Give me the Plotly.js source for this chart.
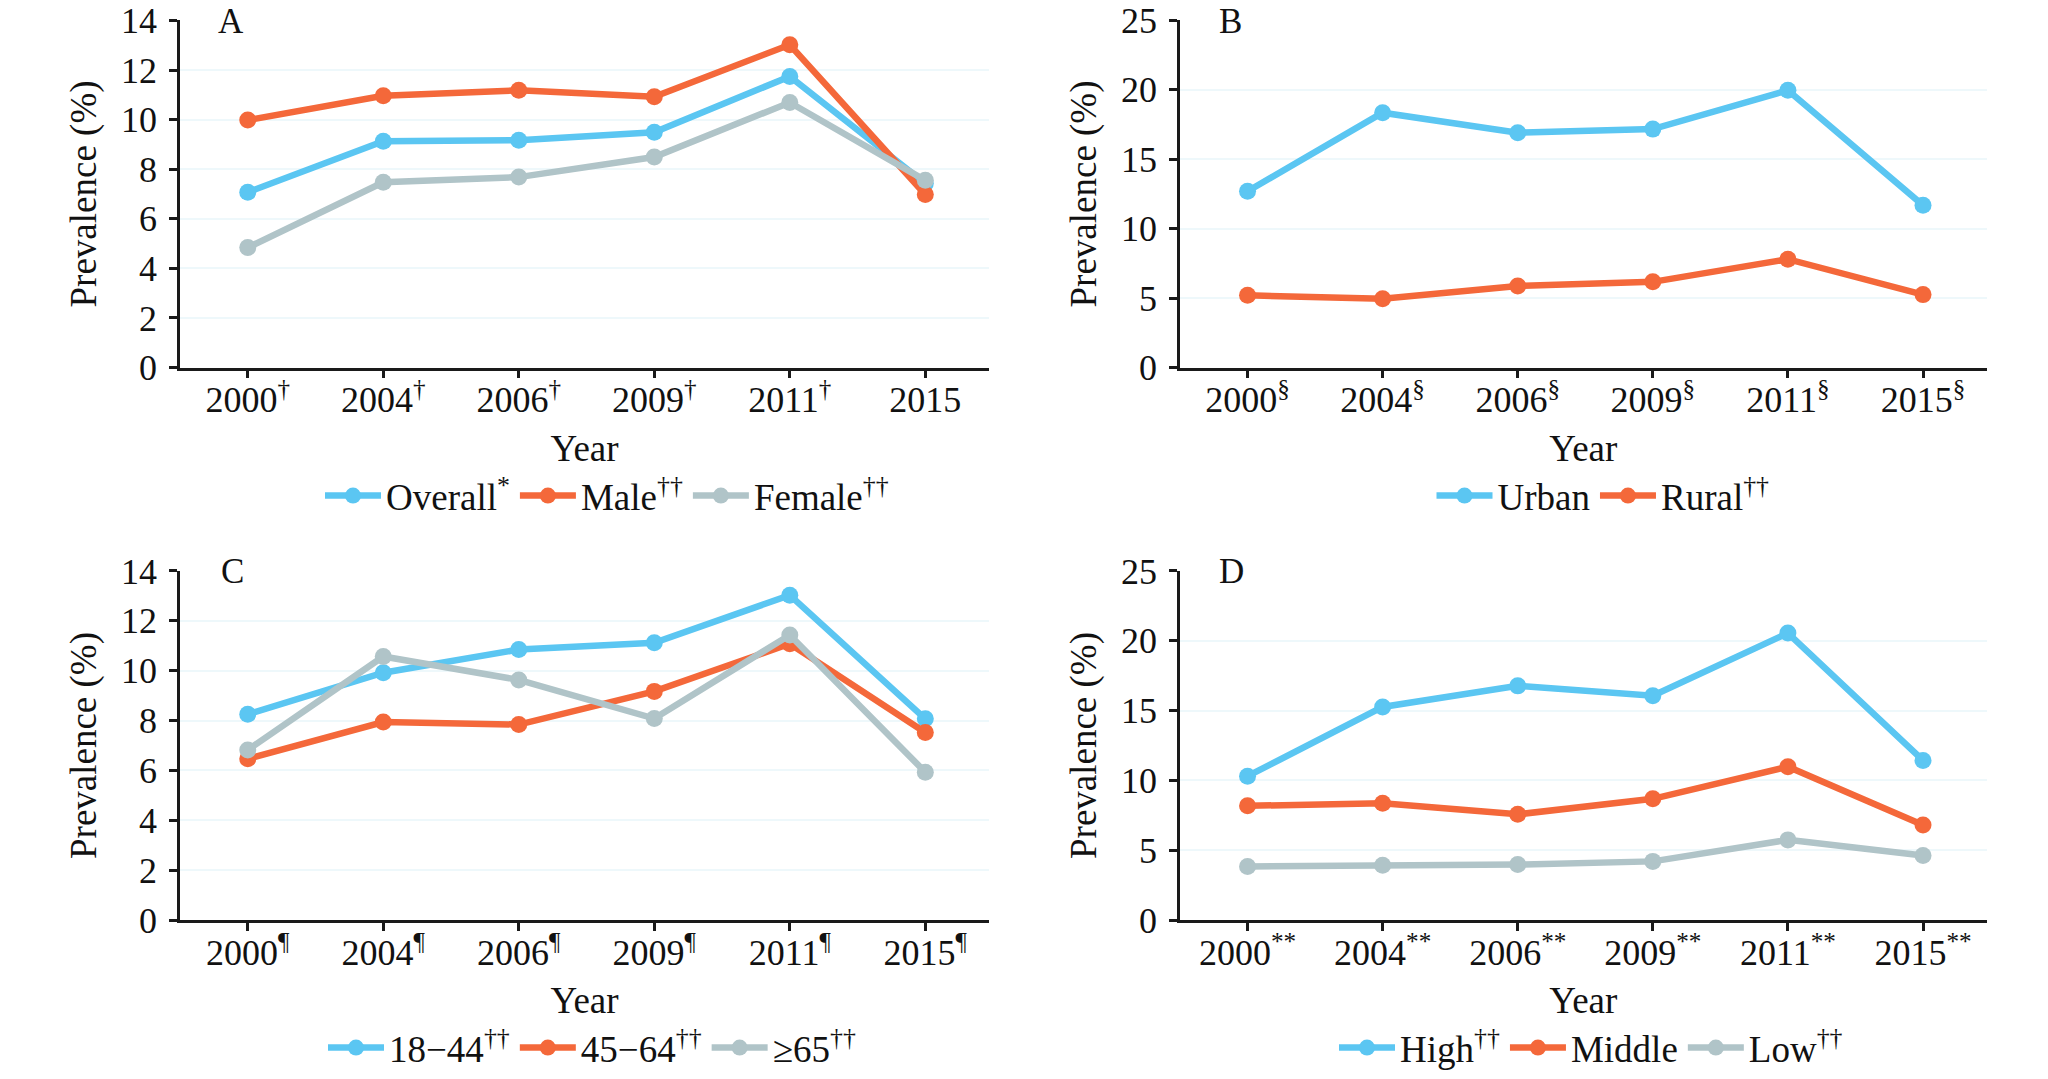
<!DOCTYPE html>
<html><head><meta charset="utf-8">
<script src="https://cdn.plot.ly/plotly-3.0.1.min.js"></script>
<style>html,body{margin:0;padding:0;background:#fff}</style>
</head><body><div id="chart" style="width:2048px;height:1079px"></div>
<script>
// ---- data ----
const years = ['2000','2004','2006','2009','2011','2015'];
const ticksA = ['2000<sup>†</sup>','2004<sup>†</sup>','2006<sup>†</sup>','2009<sup>†</sup>','2011<sup>†</sup>','2015'];
const ticksB = ['2000<sup>§</sup>','2004<sup>§</sup>','2006<sup>§</sup>','2009<sup>§</sup>','2011<sup>§</sup>','2015<sup>§</sup>'];
const ticksC = ['2000<sup>¶</sup>','2004<sup>¶</sup>','2006<sup>¶</sup>','2009<sup>¶</sup>','2011<sup>¶</sup>','2015<sup>¶</sup>'];
const ticksD = ['2000<sup>**</sup>','2004<sup>**</sup>','2006<sup>**</sup>','2009<sup>**</sup>','2011<sup>**</sup>','2015<sup>**</sup>'];

const overall = [7.07, 9.13, 9.17, 9.49, 11.74, 7.42];
const male    = [9.98, 10.96, 11.18, 10.92, 13.02, 6.98];
const female  = [4.84, 7.47, 7.68, 8.49, 10.69, 7.55];

const urban = [12.70, 18.35, 16.91, 17.17, 19.97, 11.69];
const rural = [5.20, 4.95, 5.87, 6.17, 7.80, 5.25];

const age18to44 = [8.25, 9.92, 10.85, 11.12, 13.03, 8.07];
const age45to64 = [6.47, 7.94, 7.84, 9.17, 11.08, 7.52];
const age65plus = [6.82, 10.57, 9.63, 8.08, 11.43, 5.93];

const incomeHigh   = [10.30, 15.26, 16.77, 16.07, 20.55, 11.43];
const incomeMiddle = [8.18, 8.36, 7.57, 8.68, 10.98, 6.80];
const incomeLow    = [3.84, 3.92, 3.97, 4.20, 5.74, 4.62];

const namesA = ['Overall<sup>*</sup>','Male<sup>††</sup>','Female<sup>††</sup>'];
const namesB = ['Urban','Rural<sup>††</sup>'];
const namesC = ['18−44<sup>††</sup>','45−64<sup>††</sup>','≥65<sup>††</sup>'];
const namesD = ['High<sup>††</sup>','Middle','Low<sup>††</sup>'];
const panelLetters = ['A','B','C','D'];

// ---- style ----
const BLUE = '#5BC6F2', ORANGE = '#F4683A', GREY = '#B0C4C8';
const FONT = 'Liberation Serif';
const INK = '#111111';
const W = 2048, H = 1079;

function tr(y, name, color, xa, ya, lg) {
  return {x: years, y: y, name: name, type: 'scatter', mode: 'lines+markers',
    xaxis: xa, yaxis: ya, legend: lg,
    line: {color: color, width: 6.5}, marker: {color: color, size: 17},
    hoverinfo: 'skip'};
}
const data = [
  tr(overall, namesA[0], BLUE, 'x', 'y', 'legend'),
  tr(male, namesA[1], ORANGE, 'x', 'y', 'legend'),
  tr(female, namesA[2], GREY, 'x', 'y', 'legend'),
  tr(urban, namesB[0], BLUE, 'x2', 'y2', 'legend2'),
  tr(rural, namesB[1], ORANGE, 'x2', 'y2', 'legend2'),
  tr(age18to44, namesC[0], BLUE, 'x3', 'y3', 'legend3'),
  tr(age45to64, namesC[1], ORANGE, 'x3', 'y3', 'legend3'),
  tr(age65plus, namesC[2], GREY, 'x3', 'y3', 'legend3'),
  tr(incomeHigh, namesD[0], BLUE, 'x4', 'y4', 'legend4'),
  tr(incomeMiddle, namesD[1], ORANGE, 'x4', 'y4', 'legend4'),
  tr(incomeLow, namesD[2], GREY, 'x4', 'y4', 'legend4')
];

function px(v) { return v / W; }
function py(v) { return 1 - v / H; }

function xax(dom, anchor, ticks) {
  return {domain: [px(dom[0]), px(dom[1])], anchor: anchor, type: 'category',
    range: [-0.5, 5.47], tickmode: 'array', tickvals: years, ticktext: ticks,
    showline: true, linecolor: '#1a1a1a', linewidth: 2.5, ticks: 'outside',
    ticklen: 8, tickwidth: 2.5, tickcolor: '#1a1a1a', showgrid: false, zeroline: false,
    ticklabelstandoff: -9,
    tickfont: {family: FONT, size: 36, color: INK},
    title: {text: 'Year', font: {family: FONT, size: 37, color: INK}, standoff: 16}};
}
function yax(dom, anchor, max, dt) {
  return {domain: [py(dom[1]), py(dom[0])], anchor: anchor, range: [0, max],
    dtick: dt, tick0: 0, showline: true, linecolor: '#1a1a1a', linewidth: 2.5,
    ticks: 'outside', ticklen: 8, tickwidth: 2.5, tickcolor: '#1a1a1a',
    ticklabelstandoff: 5,
    showgrid: true, gridcolor: '#eef8fb', gridwidth: 1.5, zeroline: false,
    tickfont: {family: FONT, size: 36, color: INK},
    title: {text: 'Prevalence (%)', font: {family: FONT, size: 37, color: INK}, standoff: 14}};
}
function leg(xc, yc) {
  return {orientation: 'h', x: px(xc), xanchor: 'center', y: py(yc), yanchor: 'middle',
    font: {family: FONT, size: 37, color: INK}, bgcolor: 'rgba(0,0,0,0)',
    itemwidth: 56, tracegroupgap: 0, itemclick: false, itemdoubleclick: false};
}
function letter(t, xc, yc) {
  return {text: t, x: px(xc), y: py(yc), xref: 'paper', yref: 'paper',
    xanchor: 'center', yanchor: 'middle', showarrow: false,
    font: {family: FONT, size: 35, color: INK}};
}

const topR = [20.7, 372.7], botR = [579, 933];
const leftC = [180, 989], rightC = [1180, 1986.5];

const layout = {
  width: W, height: H, margin: {l: 0, r: 0, t: 0, b: 0},
  paper_bgcolor: '#fff', plot_bgcolor: '#fff', showlegend: true,
  font: {family: FONT, size: 36, color: INK},
  xaxis: xax(leftC, 'y', ticksA), yaxis: yax(topR, 'x', 14, 2),
  xaxis2: xax(rightC, 'y2', ticksB), yaxis2: yax(topR, 'x2', 25, 5),
  xaxis3: xax(leftC, 'y3', ticksC), yaxis3: yax(botR, 'x3', 14, 2),
  xaxis4: xax(rightC, 'y4', ticksD), yaxis4: yax(botR, 'x4', 25, 5),
  legend: leg(607, 503), legend2: leg(1603, 503),
  legend3: leg(592, 1063), legend4: leg(1591, 1063),
  annotations: [
    letter(panelLetters[0], 231, 22),
    letter(panelLetters[1], 1230, 22),
    letter(panelLetters[2], 232, 580),
    letter(panelLetters[3], 1231, 580)
  ]
};

Plotly.newPlot('chart', data, layout, {displayModeBar: false});
</script></body></html>
